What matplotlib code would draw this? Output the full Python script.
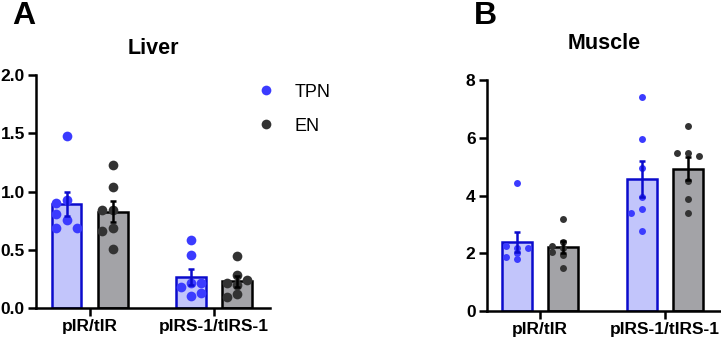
import numpy as np
import matplotlib
matplotlib.use("Agg")
import matplotlib.pyplot as plt

plt.rcParams['font.family'] = ['Liberation Sans', 'DejaVu Sans']

groups = ["pIR/tIR", "pIRS-1/tIRS-1"]

liver_tpn = [[1.48, 0.93, 0.90, 0.76, 0.81, 0.69, 0.69],
             [0.59, 0.46, 0.22, 0.18, 0.22, 0.11, 0.13]]
liver_en = [[1.23, 1.04, 0.84, 0.84, 0.69, 0.66, 0.51],
            [0.45, 0.29, 0.22, 0.20, 0.24, 0.12, 0.10]]
muscle_tpn = [[4.42, 2.20, 2.25, 2.20, 1.82, 1.88, 2.00],
              [7.42, 5.95, 4.94, 3.96, 3.52, 3.38, 2.78]]
muscle_en = [[3.19, 2.20, 2.25, 2.40, 2.06, 1.48, 1.95],
             [6.39, 5.48, 5.48, 5.35, 4.50, 3.88, 3.38]]

tpn_dot = "#3b3bff"
tpn_fill = "#c2c5fb"
tpn_edge = "#0b0bcc"
en_dot = "#333333"
en_fill = "#a3a3a7"
en_edge = "#000000"


def swarm(ax, x0, vals, diam_px, step, overlap):
    # simple beeswarm: place each point at the first free offset
    trans = ax.transData
    placed = []
    xs = []
    for v in vals:
        for k in [0, -1, 1]:
            x = x0 + k * step
            p = trans.transform((x, v))
            if all(np.hypot(*(p - q)) >= diam_px * overlap for q in placed):
                break
        placed.append(p)
        xs.append(x)
    return xs


def panel(ax, tpn, en, ylim, yticks, fmt, title, dot_ms, step, tpad, overlap):
    x = np.arange(len(groups))
    off, w = 0.185, 0.24
    ax.set_xlim(-0.43, 1.45)
    ax.set_ylim(*ylim)
    for vals_set, sign, dot, fill, edge in [(tpn, -1, tpn_dot, tpn_fill, tpn_edge),
                                            (en, 1, en_dot, en_fill, en_edge)]:
        for i, vals in enumerate(vals_set):
            v = np.array(vals)
            m = v.mean()
            sem = v.std(ddof=1) / np.sqrt(len(v))
            xc = x[i] + sign * off
            ax.bar(xc, m, width=w, color=fill, edgecolor=edge, linewidth=1.8, zorder=1)
            diam = dot_ms * 100 / 72
            xs = swarm(ax, xc, vals, diam, step, overlap)
            ax.plot(xs, vals, 'o', color=dot, ms=dot_ms, mew=0, zorder=2)
            ax.errorbar(xc, m, yerr=sem, color=edge, capsize=2.5, capthick=1.8,
                        elinewidth=1.8, zorder=3)
    ax.set_xticks(x)
    ax.set_xticklabels(groups, fontsize=12.5, fontweight='bold')
    ax.set_yticks(yticks)
    ax.set_yticklabels([fmt.format(t) for t in yticks], fontsize=12.5, fontweight='bold')
    for s in ['top', 'right']:
        ax.spines[s].set_visible(False)
    for s in ['left', 'bottom']:
        ax.spines[s].set_linewidth(1.8)
    ax.tick_params(width=1.8, length=6, pad=2)
    ax.set_title(title, fontsize=15.5, fontweight='bold', pad=tpad)


fig = plt.figure(figsize=(7.21, 3.43), dpi=100)
axA = fig.add_axes([0.050, 0.101, 0.3245, 0.680])
axB = fig.add_axes([0.675, 0.093, 0.325, 0.674])

panel(axA, liver_tpn, liver_en, (0, 2.0), [0, 0.5, 1.0, 1.5, 2.0], "{:.1f}", "Liver",
      7, 0.082, 15, 0.9)
panel(axB, muscle_tpn, muscle_en, (0, 8), [0, 2, 4, 6, 8], "{:.0f}", "Muscle",
      5, 0.09, 22, 0.7)

h1, = axA.plot([], [], 'o', color=tpn_dot, ms=7, mew=0)
h2, = axA.plot([], [], 'o', color=en_dot, ms=7, mew=0)
axA.legend([h1, h2], ["TPN", "EN"], loc='upper left', bbox_to_anchor=(0.875, 0.995),
           frameon=False, fontsize=13, handletextpad=0.6, labelspacing=0.95,
           borderaxespad=0)

fig.text(0.017, 0.930, "A", fontsize=23, fontweight='bold', va='baseline')
fig.text(0.657, 0.930, "B", fontsize=23, fontweight='bold', va='baseline')

fig.savefig("out.png", dpi=100)
